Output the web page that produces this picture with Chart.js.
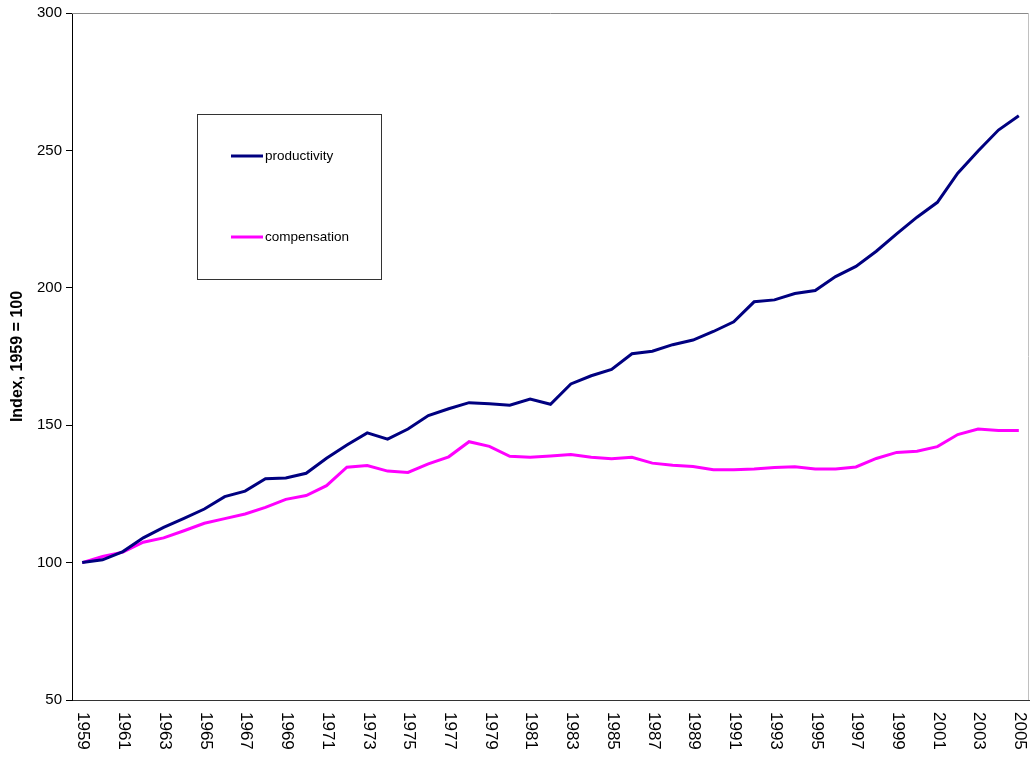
<!DOCTYPE html>
<html>
<head>
<meta charset="utf-8">
<script src="https://cdn.jsdelivr.net/npm/chart.js@4/dist/chart.umd.min.js"></script>
<style>
  html, body { margin: 0; padding: 0; background: #ffffff; }
  #wrap { width: 1030px; height: 760px; position: relative; }
</style>
</head>
<body>
<div id="wrap"><canvas id="c" width="1030" height="760"></canvas></div>
<script>
const years = ["1959","1960","1961","1962","1963","1964","1965","1966","1967","1968",
  "1969","1970","1971","1972","1973","1974","1975","1976","1977","1978",
  "1979","1980","1981","1982","1983","1984","1985","1986","1987","1988",
  "1989","1990","1991","1992","1993","1994","1995","1996","1997","1998",
  "1999","2000","2001","2002","2003","2004","2005"];

const productivity = [100, 101, 104, 109, 112.8, 116.1, 119.5, 124, 126, 130.5,
  130.8, 132.5, 138, 142.8, 147.2, 144.9, 148.6, 153.5, 156, 158.2,
  157.8, 157.3, 159.5, 157.6, 165, 168, 170.3, 176, 176.9, 179.3,
  181, 184.1, 187.6, 194.9, 195.6, 197.9, 199, 204.1, 207.8, 213.3,
  219.6, 225.7, 231.1, 241.7, 249.8, 257.4, 262.6];

const compensation = [100, 102.2, 103.8, 107.4, 109, 111.6, 114.3, 116, 117.7, 120.1,
  123, 124.4, 128, 134.7, 135.3, 133.3, 132.8, 135.9, 138.5, 144,
  142.3, 138.7, 138.3, 138.8, 139.3, 138.3, 137.8, 138.3, 136.2, 135.4,
  135, 133.8, 133.8, 134.1, 134.6, 134.9, 134.1, 134.1, 134.8, 137.9,
  140.1, 140.5, 142.2, 146.6, 148.6, 148.1, 148.1];

const xTickLabels = ["1959","1961","1963","1965","1967","1969","1971","1973","1975","1977",
  "1979","1981","1983","1985","1987","1989","1991","1993","1995","1997",
  "1999","2001","2003","2005"];

const yTitle = "Index, 1959 = 100";
const seriesNames = ["productivity", "compensation"];
const seriesColors = ["#000080", "#ff00ff"];

const FONT = "'Liberation Sans', Arial, sans-serif";

const decorPlugin = {
  id: 'decor',
  beforeDatasetsDraw(chart) {
    const ctx = chart.ctx;
    const a = chart.chartArea;
    ctx.save();
    ctx.lineWidth = 1;
    ctx.strokeStyle = '#8a8a8a';
    ctx.beginPath();
    ctx.moveTo(a.left, a.top + 0.5);
    ctx.lineTo(a.right, a.top + 0.5);
    ctx.stroke();
    ctx.strokeStyle = '#c0c0c0';
    ctx.beginPath();
    ctx.moveTo(a.right - 0.5, a.top);
    ctx.lineTo(a.right - 0.5, a.bottom);
    ctx.stroke();
    ctx.restore();
  },
  afterDraw(chart) {
    const ctx = chart.ctx;
    const xs = chart.scales.x;
    const a = chart.chartArea;
    ctx.save();
    // rotated x labels, reading top to bottom
    ctx.fillStyle = '#000';
    ctx.font = '17px ' + FONT;
    ctx.textAlign = 'left';
    ctx.textBaseline = 'middle';
    xTickLabels.forEach(lab => {
      const idx = years.indexOf(lab);
      const x = xs.getPixelForValue(idx);
      ctx.save();
      ctx.translate(x + 1, a.bottom + 12);
      ctx.rotate(Math.PI / 2);
      ctx.fillText(lab, 0, 0);
      ctx.restore();
    });
    // legend box
    const bx = 197.5, by = 114.5, bw = 184, bh = 165;
    ctx.strokeStyle = '#333';
    ctx.lineWidth = 1;
    ctx.strokeRect(bx, by, bw, bh);
    const rows = [156, 237];
    chart.data.datasets.forEach((ds, i) => {
      const y = rows[i];
      ctx.strokeStyle = ds.borderColor;
      ctx.lineWidth = 3;
      ctx.beginPath();
      ctx.moveTo(231, y);
      ctx.lineTo(263, y);
      ctx.stroke();
      ctx.fillStyle = '#000';
      ctx.font = '13.5px ' + FONT;
      ctx.textAlign = 'left';
      ctx.textBaseline = 'middle';
      ctx.fillText(ds.label, 265, y);
    });
    ctx.restore();
  }
};

new Chart(document.getElementById('c'), {
  type: 'line',
  data: {
    labels: years,
    datasets: [
      { label: seriesNames[0], data: productivity, borderColor: seriesColors[0], backgroundColor: seriesColors[0],
        borderWidth: 3, pointRadius: 0, tension: 0, fill: false },
      { label: seriesNames[1], data: compensation, borderColor: seriesColors[1], backgroundColor: seriesColors[1],
        borderWidth: 3, pointRadius: 0, tension: 0, fill: false }
    ]
  },
  options: {
    responsive: false,
    animation: false,
    devicePixelRatio: 1,
    layout: { padding: { top: 13, right: 1, left: 0, bottom: 0 } },
    plugins: {
      legend: { display: false },
      tooltip: { enabled: false },
      title: { display: false }
    },
    scales: {
      x: {
        type: 'category',
        offset: true,
        grid: { display: false },
        border: { display: true, color: '#333', width: 1 },
        ticks: { display: false },
        afterFit(scale) { scale.height = 60; }
      },
      y: {
        min: 50,
        max: 300,
        ticks: {
          stepSize: 50,
          color: '#000',
          padding: 4,
          font: { family: FONT, size: 15 }
        },
        grid: { display: true, drawOnChartArea: false, drawTicks: true, tickLength: 6, color: '#000' },
        border: { display: true, color: '#000', width: 1 },
        title: {
          display: true,
          text: yTitle,
          color: '#000',
          font: { family: FONT, size: 16, weight: 'bold' },
          padding: { top: 8, bottom: 0 }
        },
        afterFit(scale) { scale.width = 72; }
      }
    }
  },
  plugins: [decorPlugin]
});
</script>
</body>
</html>
